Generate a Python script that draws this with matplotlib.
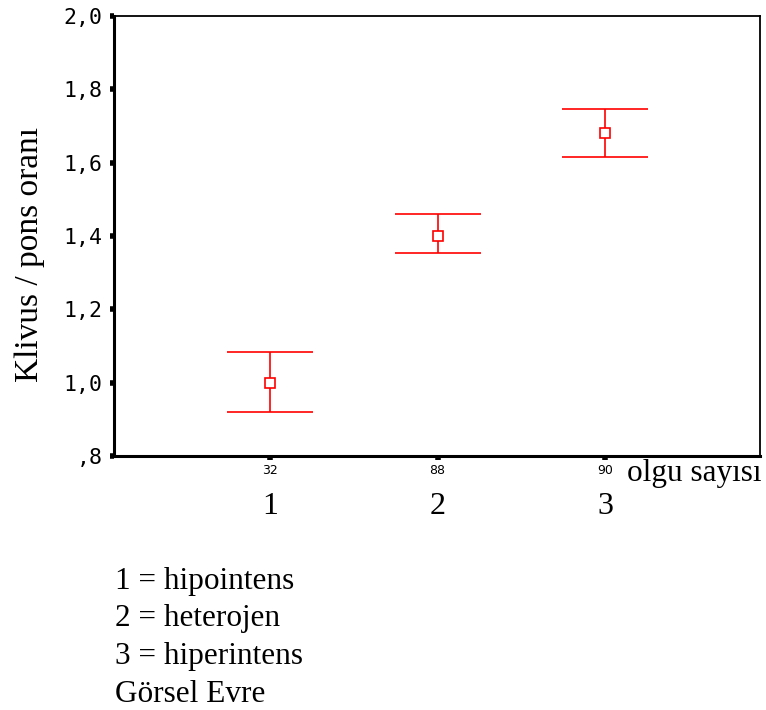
import matplotlib
matplotlib.use("Agg")
import matplotlib.pyplot as plt
import matplotlib.transforms as mtransforms

# group means with lower / upper CI bounds
groups = [1, 2, 3]
counts = [32, 88, 90]
means = [1.00, 1.40, 1.68]
lower = [0.92, 1.355, 1.615]
upper = [1.085, 1.46, 1.747]
ytick_vals = [0.8, 1.0, 1.2, 1.4, 1.6, 1.8, 2.0]
ytick_labels = [",8", "1,0", "1,2", "1,4", "1,6", "1,8", "2,0"]
legend_lines = ["1 = hipointens", "2 = heterojen", "3 = hiperintens", "Görsel Evre"]

SERIF = "Liberation Serif"
RED = "#ff0000"

fig = plt.figure(figsize=(7.66, 7.10), dpi=100)
ax = fig.add_axes([0.1488, 0.3577, 0.9922 - 0.1488, 0.9775 - 0.3577])

err = [[m - lo for m, lo in zip(means, lower)],
       [hi - m for m, hi in zip(means, upper)]]
ax.errorbar(groups, means, yerr=err, fmt="s", color=RED, ecolor=RED,
            mfc="white", mec=RED, ms=7, mew=1.2, elinewidth=1.2,
            capsize=31, capthick=1.2)

ax.set_xlim(1 - 156 / 167.5, 3 + 155 / 167.5)
ax.set_ylim(0.8, 2.0)

ax.set_yticks(ytick_vals)
ax.set_yticklabels(ytick_labels, family="DejaVu Sans Mono", fontsize=15.5)
ax.set_xticks(groups)
ax.set_xticklabels([str(c) for c in counts], fontsize=9)
ax.tick_params(axis="both", direction="out", length=3, width=4, color="black")
ax.tick_params(axis="y", pad=5)
ax.tick_params(axis="x", pad=3)

for side in ("left", "bottom"):
    ax.spines[side].set_linewidth(2.2)
for side in ("top", "right"):
    ax.spines[side].set_linewidth(1.3)

fig.text(30 / 766, 1 - 254 / 710, "Klivus / pons oranı", family=SERIF,
         fontsize=24, rotation=90, ha="center", va="center")

# category numbers under the count labels
trans = mtransforms.blended_transform_factory(ax.transData, fig.transFigure)
for g in groups:
    ax.text(g, 1 - 506 / 710, str(g), transform=trans, family=SERIF,
            fontsize=23, ha="center", va="center")

fig.text(627 / 766, 1 - 473 / 710, "olgu sayısı", family=SERIF,
         fontsize=22.5, ha="left", va="center")

for i, line in enumerate(legend_lines):
    fig.text(115 / 766, 1 - (581 + 37.7 * i) / 710, line, family=SERIF,
             fontsize=22.5, ha="left", va="center")

fig.savefig("out.png", dpi=100)
